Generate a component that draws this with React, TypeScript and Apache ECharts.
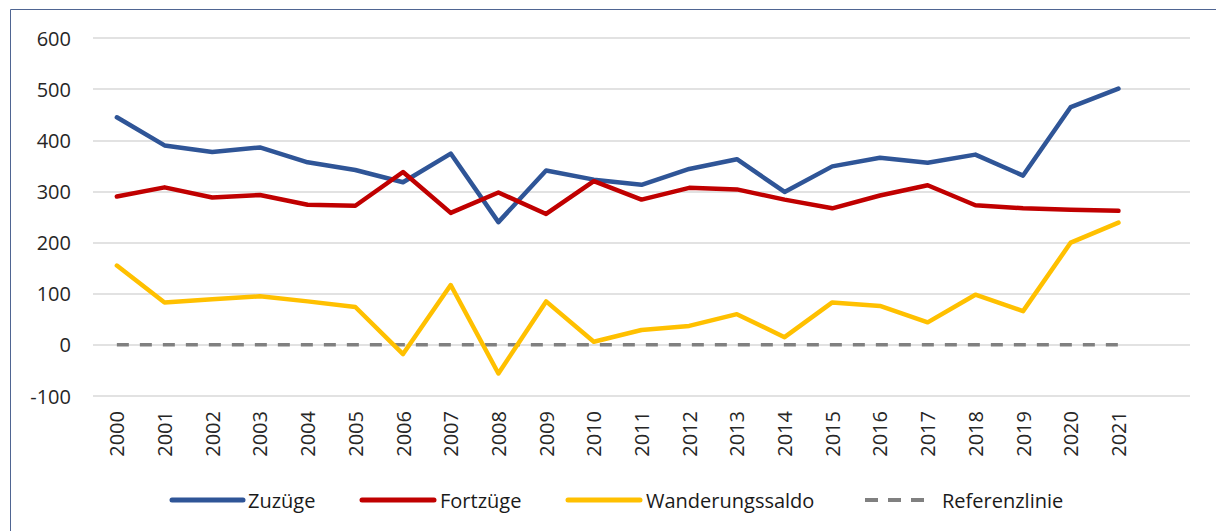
import React, { useEffect, useRef } from "react";
import * as echarts from "echarts";

const years = [
  "2000", "2001", "2002", "2003", "2004", "2005", "2006", "2007", "2008", "2009", "2010",
  "2011", "2012", "2013", "2014", "2015", "2016", "2017", "2018", "2019", "2020", "2021",
];
const categories = [...years, ""];

const zuzuege = [445, 390, 377, 386, 357, 342, 318, 374, 240, 341, 323, 313, 344, 363, 299, 349, 366, 356, 372, 331, 465, 501];
const fortzuege = [290, 308, 288, 293, 274, 272, 338, 258, 298, 256, 320, 284, 307, 304, 284, 267, 292, 312, 273, 267, 264, 262];
const saldo = [155, 83, 89, 95, 85, 74, -18, 117, -56, 85, 6, 29, 37, 60, 15, 83, 76, 44, 98, 66, 200, 239];
const referenz = [0, 0, 0, 0, 0, 0, 0, 0, 0, 0, 0, 0, 0, 0, 0, 0, 0, 0, 0, 0, 0, 0];

const seriesNames = ["Zuzüge", "Fortzüge", "Wanderungssaldo", "Referenzlinie"];
const seriesColors = ["#2f5597", "#c00000", "#ffc000", "#808080"];

const yTicks = { min: -100, max: 600, interval: 100 };

const FONT = "'Open Sans', 'Liberation Sans', sans-serif";

export default function App() {
  const ref = useRef<HTMLDivElement>(null);
  useEffect(() => {
    if (!ref.current) return;
    const chart = echarts.init(ref.current, undefined, { renderer: "svg" });
    const lineSeries = (i: number, data: number[], extra: any = {}) => ({
      name: seriesNames[i],
      type: "line",
      data,
      symbol: "none",
      showSymbol: false,
      lineStyle: { color: seriesColors[i], width: 4.5, cap: "round", join: "round", ...extra },
      itemStyle: { color: seriesColors[i] },
      z: 3,
    });

    const legendY = 500;
    const legendItems = [
      { x0: 172, x1: 243, tx: 248, dashed: false },
      { x0: 362, x1: 434, tx: 440, dashed: false },
      { x0: 568, x1: 640, tx: 646, dashed: false },
      { x0: 865, x1: 924, tx: 942, dashed: true },
    ];
    const legendGraphics: any[] = [];
    legendItems.forEach((it, i) => {
      legendGraphics.push({
        type: "line",
        silent: true,
        shape: { x1: it.x0, y1: legendY, x2: it.x1, y2: legendY },
        style: it.dashed
          ? { stroke: seriesColors[i], lineWidth: 4, lineDash: [13, 10] }
          : { stroke: seriesColors[i], lineWidth: 5, lineCap: "round" },
      });
      legendGraphics.push({
        type: "text",
        silent: true,
        x: it.tx,
        y: legendY,
        style: {
          text: seriesNames[i],
          fontFamily: FONT,
          fontSize: 20,
          fill: "#1a1a1a",
          verticalAlign: "middle",
          align: "left",
        },
      });
    });

    chart.setOption({
      animation: false,
      backgroundColor: "#ffffff",
      graphic: [
        {
          type: "rect",
          silent: true,
          z: -10,
          shape: { x: 10.5, y: 9.5, width: 1400, height: 700 },
          style: { fill: "none", stroke: "#4f6592", lineWidth: 1 },
        },
        ...legendGraphics,
      ],
      grid: { left: 93, top: 38, width: 1097, height: 358, containLabel: false },
      xAxis: {
        type: "category",
        data: categories,
        boundaryGap: true,
        axisLine: { show: false },
        axisTick: { show: false },
        axisLabel: { rotate: 90, margin: 15, fontFamily: FONT, fontSize: 20, color: "#262626" },
        splitLine: { show: false },
      },
      yAxis: {
        type: "value",
        min: yTicks.min,
        max: yTicks.max,
        interval: yTicks.interval,
        axisLine: { show: false },
        axisTick: { show: false },
        axisLabel: { margin: 22, fontFamily: FONT, fontSize: 20, color: "#262626" },
        splitLine: { lineStyle: { color: "#d9d9d9", width: 1.5 } },
      },
      series: [
        lineSeries(0, zuzuege),
        lineSeries(1, fortzuege),
        lineSeries(2, saldo),
        { ...lineSeries(3, referenz, { type: [12, 11], cap: "butt", width: 3.5 }), z: 2 },
      ],
    });
    return () => chart.dispose();
  }, []);
  return (
    <div
      ref={ref}
      style={{ position: "absolute", left: 0, top: 0, width: 1216, height: 531 }}
    />
  );
}
